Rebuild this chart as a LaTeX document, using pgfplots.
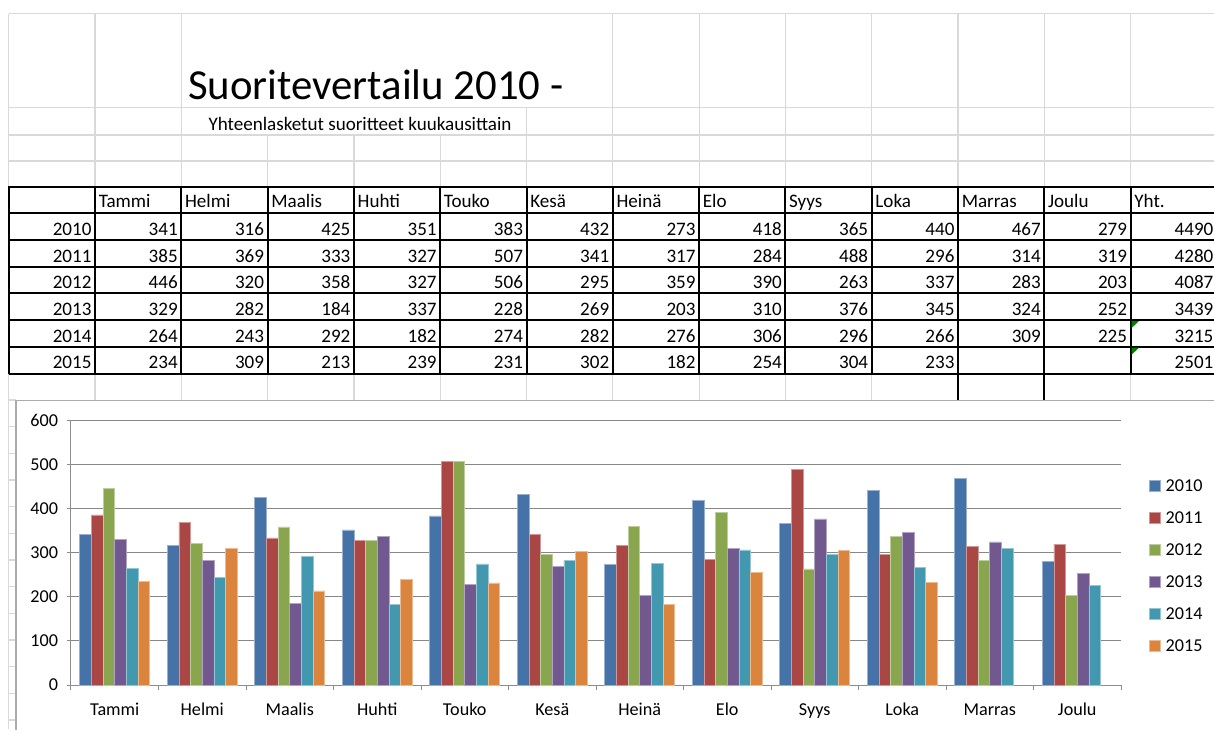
\documentclass[border=0pt]{standalone}
\usepackage{pgfplots}
\pgfplotsset{compat=1.18}
\usepackage{fontspec}
\setmainfont{Carlito}
\definecolor{c1}{HTML}{4572A7}
\definecolor{c2}{HTML}{AA4643}
\definecolor{c3}{HTML}{89A54E}
\definecolor{c4}{HTML}{71588F}
\definecolor{c5}{HTML}{4198AF}
\definecolor{c6}{HTML}{DB843D}
\definecolor{xlgrid}{HTML}{D9D9D9}
\definecolor{chartgrid}{HTML}{878787}
\definecolor{axisgray}{HTML}{8C8C8C}
\definecolor{chartborder}{HTML}{ABABAB}
\definecolor{errgreen}{HTML}{008000}
\newcommand{\tabfont}{\fontsize{14.3}{16}\selectfont}
\newcommand{\chartfont}{\fontsize{13.6}{15}\selectfont}
\begin{document}
\begin{tikzpicture}[x=0.75pt,y=-0.75pt]
\useasboundingbox (0,0) rectangle (1214,729);
\clip (0,0) rectangle (1214,729);
% ---- spreadsheet light grid ----
\begin{scope}[draw=xlgrid, line width=0.9pt]
  \foreach \yy in {13.5,107.5,135,161} \draw (8.7,\yy) -- (1214,\yy);
  \draw (8.7,13.5) -- (8.7,729);
  \foreach \xx in {95,181.3,612.8,699.1,785.4,871.7,958,1044.3,1130.6} \draw (\xx,13.5) -- (\xx,187);
  \draw (526.5,107.5) -- (526.5,187);
  \foreach \xx in {267.6,353.9,440.2} \draw (\xx,135) -- (\xx,187);
  \foreach \xx in {95,181.3,267.6,353.9,440.2,526.5,612.8,699.1,785.4,871.7,958,1044.3,1130.6} \draw (\xx,373.5) -- (\xx,400);
  \foreach \yy in {400,426.7,453.3,480,506.7,533.3,560,586.7,613.3,640,666.7,693.3,720} \draw (8.7,\yy) -- (16,\yy);
\end{scope}
% ---- table borders ----
\begin{scope}[draw=black, line width=1.5pt]
  \foreach \yy in {187,213,240,266.7,293.3,320,346.7,373.5} \draw (8.7,\yy) -- (1214,\yy);
  \foreach \xx in {8.7,95,181.3,267.6,353.9,440.2,526.5,612.8,699.1,785.4,871.7,958,1044.3,1130.6} \draw (\xx,186.3) -- (\xx,374.2);
  \draw (958,373.5) -- (958,400);
  \draw (1044.3,373.5) -- (1044.3,400);
\end{scope}
\fill[errgreen] (1131.6,321) -- (1139,321) -- (1131.6,328) -- cycle;
\fill[errgreen] (1131.6,347.7) -- (1139,347.7) -- (1131.6,354.7) -- cycle;
% ---- titles ----
\node[anchor=base west, inner sep=0pt, font=\fontsize{32.1}{36}\selectfont] at (188,99.5) {Suoritevertailu 2010 -};
\node[anchor=base, inner sep=0pt, font=\tabfont] at (360,130.5) {Yhteenlasketut suoritteet kuukausittain};
% ---- table text ----
\foreach \m [count=\i] in {Tammi,Helmi,Maalis,Huhti,Touko,Kesä,Heinä,Elo,Syys,Loka,Marras,Joulu,Yht.}
  \node[anchor=base west, inner sep=0pt, font=\tabfont] at ({8.7+86.3*\i+3.5},207.8) {\m};
\foreach \yr/\vals [count=\r] in {
  2010/{341,316,425,351,383,432,273,418,365,440,467,279,4490},
  2011/{385,369,333,327,507,341,317,284,488,296,314,319,4280},
  2012/{446,320,358,327,506,295,359,390,263,337,283,203,4087},
  2013/{329,282,184,337,228,269,203,310,376,345,324,252,3439},
  2014/{264,243,292,182,274,282,276,306,296,266,309,225,3215},
  2015/{234,309,213,239,231,302,182,254,304,233,{},{},2501}}{
  \pgfmathsetmacro{\bl}{213.3+26.7*\r-4.6}
  \node[anchor=base east, inner sep=0pt, font=\tabfont] at (91.7,\bl) {\yr};
  \foreach \v [count=\c] in \vals
    \node[anchor=base east, inner sep=0pt, font=\tabfont] at ({8.7+86.3*(\c+1)-3.3},\bl) {\v};
}
% ---- chart area ----
\draw[chartborder, line width=0.9pt, fill=white] (16,400.5) rectangle (1260,780);
\begin{axis}[
  at={(53.25pt,-513.75pt)}, anchor=south west,
  scale only axis, width=787.5pt, height=198.75pt,
  xmin=0, xmax=12, ymin=0, ymax=600,
  ybar=0pt, bar width=8.75pt,
  axis x line*=bottom, axis y line*=left,
  axis line style={draw=axisgray, line width=0.75pt, -},
  ytick={0,100,...,600},
  ymajorgrids, major grid style={draw=chartgrid, line width=0.75pt},
  xtick={0.5,1.5,...,11.5},
  xticklabels={Tammi,Helmi,Maalis,Huhti,Touko,Kesä,Heinä,Elo,Syys,Loka,Marras,Joulu},
  minor xtick={0,1,...,12},
  tick align=outside,
  major tick length=3pt, minor tick length=3.75pt,
  major x tick style={draw=none},
  minor x tick style={draw=axisgray, line width=0.75pt},
  ytick style={draw=axisgray, line width=0.75pt},
  /pgf/number format/assume math mode=true,
  tick label style={font=\chartfont, inner sep=0pt},
  yticklabel style={anchor=east, xshift=-6.5pt},
  xticklabel style={anchor=base, yshift=-19.5pt},
  legend style={at={(1.0267,0.451)}, anchor=west, draw=none, fill=none,
    inner sep=0pt, outer sep=0pt, font=\chartfont, row sep=15.3pt, column sep=3.75pt,
    nodes={inner sep=0pt, text height=8.5pt, text depth=0pt}},
  legend cell align=left,
  legend image code/.code={\fill[#1] (0pt,-4.1pt) rectangle (8.25pt,4.1pt);},
]
\addplot[fill=c1, draw=c1!55!white, line width=0.5pt] coordinates {(0.5,341) (1.5,316) (2.5,425) (3.5,351) (4.5,383) (5.5,432) (6.5,273) (7.5,418) (8.5,365) (9.5,440) (10.5,467) (11.5,279)};
\addplot[fill=c2, draw=c2!55!white, line width=0.5pt] coordinates {(0.5,385) (1.5,369) (2.5,333) (3.5,327) (4.5,507) (5.5,341) (6.5,317) (7.5,284) (8.5,488) (9.5,296) (10.5,314) (11.5,319)};
\addplot[fill=c3, draw=c3!55!white, line width=0.5pt] coordinates {(0.5,446) (1.5,320) (2.5,358) (3.5,327) (4.5,506) (5.5,295) (6.5,359) (7.5,390) (8.5,263) (9.5,337) (10.5,283) (11.5,203)};
\addplot[fill=c4, draw=c4!55!white, line width=0.5pt] coordinates {(0.5,329) (1.5,282) (2.5,184) (3.5,337) (4.5,228) (5.5,269) (6.5,203) (7.5,310) (8.5,376) (9.5,345) (10.5,324) (11.5,252)};
\addplot[fill=c5, draw=c5!55!white, line width=0.5pt] coordinates {(0.5,264) (1.5,243) (2.5,292) (3.5,182) (4.5,274) (5.5,282) (6.5,276) (7.5,306) (8.5,296) (9.5,266) (10.5,309) (11.5,225)};
\addplot[fill=c6, draw=c6!55!white, line width=0.5pt] coordinates {(0.5,234) (1.5,309) (2.5,213) (3.5,239) (4.5,231) (5.5,302) (6.5,182) (7.5,254) (8.5,304) (9.5,233)};
\legend{2010,2011,2012,2013,2014,2015}
\end{axis}
\end{tikzpicture}
\end{document}
